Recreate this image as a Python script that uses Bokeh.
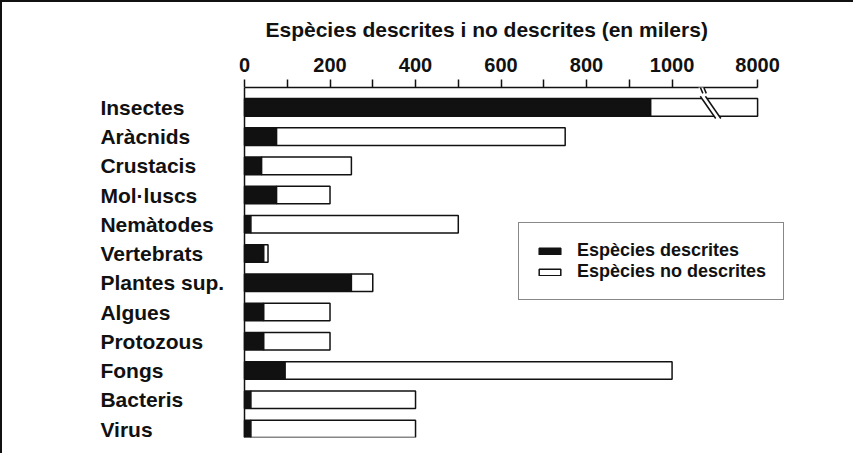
from bokeh.plotting import figure
from bokeh.models import (FixedTicker, LinearAxis, Span, Legend, LegendItem, Arrow,
                          ColumnDataSource, Range1d)
from bokeh.core.properties import value
from bokeh.embed import file_html
from bokeh.resources import INLINE

# ---- data (thousands of species) ----
categories = ["Insectes", "Aràcnids", "Crustacis", "Mol·luscs", "Nemàtodes", "Vertebrats",
              "Plantes sup.", "Algues", "Protozous", "Fongs", "Bacteris", "Virus"]
described = [950, 75, 40, 75, 15, 45, 250, 45, 45, 95, 15, 15]
total = [8000, 750, 250, 200, 500, 55, 300, 200, 200, 1000, 400, 400]
tick_values = [0, 100, 200, 300, 400, 500, 600, 700, 800, 900, 1000, 8000]
tick_labels = ["0", "", "200", "", "400", "", "600", "", "800", "", "1000", "8000"]
title_text = "Espècies descrites i no descrites (en milers)"
legend_labels = ["Espècies descrites", "Espècies no descrites"]

# broken axis: linear up to BREAK, then compressed so that AXIS_TOP sits at BREAK + SPAN
BREAK = 1100
AXIS_TOP = 8000
SPAN = 100
def disp(v):
    return v if v <= BREAK else BREAK + (v - BREAK) * SPAN / (AXIS_TOP - BREAK)

FONT = "Liberation Sans"
INK = "#111111"

n = len(categories)
ys = [n - 1 - i for i in range(n)]
src = ColumnDataSource(dict(
    y=ys, cat=categories,
    zero=[0] * n,
    d=[disp(v) for v in described],
    t=[disp(v) for v in total],
))

W, H = 853, 453
TOP, BOTTOM = 83, 18
X0, X1 = -566, 1429
Y0, Y1 = -0.29, n - 1 + 0.68
p = figure(width=W, height=H, output_backend="svg", toolbar_location=None,
           x_range=Range1d(X0, X1), y_range=Range1d(Y0, Y1),
           min_border_left=0, min_border_right=0, min_border_top=TOP, min_border_bottom=BOTTOM,
           x_axis_location=None, y_axis_location=None)
p.styles = {"border-top": "2px solid #111", "border-left": "2px solid #111"}
p.outline_line_color = None
p.xgrid.visible = False
p.ygrid.visible = False
p.background_fill_color = "white"
p.border_fill_color = "white"

# title
p.title.text = title_text
p.title.text_font = FONT
p.title.text_font_size = "21px"
p.title.text_font_style = "bold"
p.title.text_color = INK
p.title.align = "left"
p.title.offset = 263
p.title.standoff = 27

# top axis
ax = LinearAxis(ticker=FixedTicker(ticks=[disp(v) for v in tick_values]),
                bounds=(0, disp(AXIS_TOP)))
ax.major_label_overrides = {disp(v): lab for v, lab in zip(tick_values, tick_labels)}
ax.major_tick_in = 0
ax.major_tick_out = 8
ax.minor_tick_in = 0
ax.minor_tick_out = 0
ax.major_label_standoff = 8
ax.major_label_text_font = FONT
ax.major_label_text_font_size = "20px"
ax.major_label_text_font_style = "bold"
ax.major_label_text_color = INK
ax.axis_line_width = 1.5
ax.axis_line_color = INK
ax.major_tick_line_width = 1.5
ax.major_tick_line_color = INK
p.add_layout(ax, "above")

# vertical base line
p.add_layout(Span(location=0, dimension="height", line_color=INK, line_width=1.5))

# bars
BH = 0.6
r1 = p.hbar(y="y", left="zero", right="d", height=BH, source=src,
            fill_color=INK, line_color=INK, line_width=1.5)
r2 = p.hbar(y="y", left="d", right="t", height=BH, source=src,
            fill_color="white", line_color=INK, line_width=1.5)

# category labels
p.text(x=-337, y="y", text="cat", source=src, text_font=value(FONT), text_font_size="21px",
       text_font_style="bold", text_color=INK, text_baseline="middle", text_align="left")

# break marks on the Insectes bar
yb = ys[0]
bx = BREAK - 34
p.patch(x=[bx, bx + 12, bx + 48, bx + 36], y=[yb + BH / 2 + 0.08, yb + BH / 2 + 0.08,
        yb - BH / 2 - 0.08, yb - BH / 2 - 0.08], fill_color="white", line_color=None)
p.segment(x0=[bx, bx + 12], y0=[yb + BH / 2 + 0.08] * 2, x1=[bx + 36, bx + 48],
          y1=[yb - BH / 2 - 0.08] * 2, line_color=INK, line_width=1.5)

# break marks on the axis
ax_bx = BREAK - 40
p.add_layout(Arrow(end=None, x_start=ax_bx + 4, y_start=Y1 + 0.2, x_end=ax_bx + 12, y_end=Y1 - 0.2,
                   line_color="white", line_width=5))
for dx in (0, 8):
    p.add_layout(Arrow(end=None, x_start=ax_bx + dx, y_start=Y1 + 0.22, x_end=ax_bx + dx + 12,
                       y_end=Y1 - 0.2, line_color=INK, line_width=1.5))

# legend
legend = Legend(items=[LegendItem(label=legend_labels[0], renderers=[r1]),
                       LegendItem(label=legend_labels[1], renderers=[r2])],
                location=(516, 137), orientation="vertical",
                glyph_width=27, glyph_height=8, label_height=21, spacing=0,
                padding=17, margin=0, label_standoff=14,
                label_text_font=FONT, label_text_font_size="18px", label_text_font_style="bold",
                label_text_color=INK, border_line_color=INK, border_line_width=1.5,
                background_fill_color="white", background_fill_alpha=1.0)
p.add_layout(legend)

open("out.html", "w").write(file_html(p, INLINE))
